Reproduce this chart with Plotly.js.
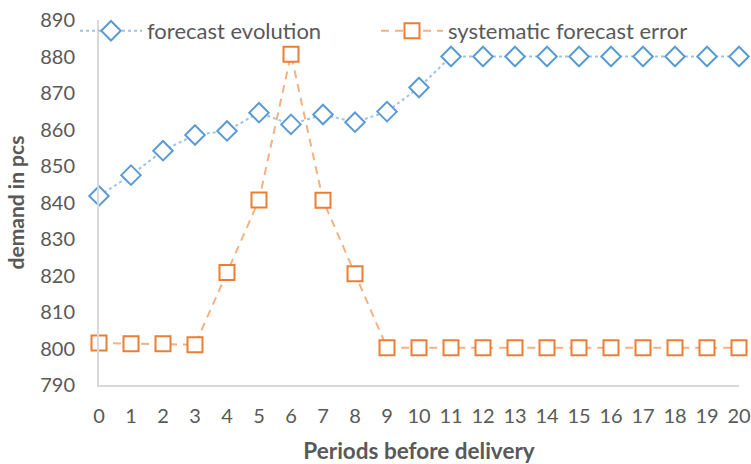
<!DOCTYPE html>
<html>
<head>
<meta charset="utf-8">
<script src="https://cdn.plot.ly/plotly-3.0.1.min.js"></script>
<style>html,body{margin:0;padding:0;background:#fff;}#chart{width:751px;height:464px;}</style>
</head>
<body>
<div id="chart"></div>
<script>
const periods = [0,1,2,3,4,5,6,7,8,9,10,11,12,13,14,15,16,17,18,19,20];
const forecastEvolution = [841.8,847.5,854.2,858.5,859.6,864.6,861.4,864.1,862.0,864.9,871.5,880,880,880,880,880,880,880,880,880,880];
const systematicError = [801.5,801.3,801.3,801.0,820.8,840.7,880.6,840.6,820.5,800.2,800.2,800.2,800.2,800.2,800.2,800.2,800.2,800.2,800.2,800.2,800.2];
const seriesNames = ['forecast evolution','systematic forecast error'];
const yTicks = [790,800,810,820,830,840,850,860,870,880,890];

const textColor = '#595959';
const traces = [
  {
    x: periods, y: forecastEvolution, name: seriesNames[0], type: 'scatter', mode: 'lines+markers',
    cliponaxis: false, legend: 'legend',
    line: {color: '#9dc3e6', width: 2, dash: 'dot'},
    marker: {symbol: 'diamond', size: 15, color: '#ffffff', line: {color: '#5b9bd5', width: 2}}
  },
  {
    x: periods, y: systematicError, name: seriesNames[1], type: 'scatter', mode: 'lines+markers',
    cliponaxis: false, legend: 'legend2',
    line: {color: '#f4b183', width: 2, dash: '8px,6px'},
    marker: {symbol: 'square', size: 15, color: '#ffffff', line: {color: '#ed7d31', width: 2}}
  }
];
const legendBase = {
  orientation: 'h', xanchor: 'left', y: 0.97, yanchor: 'middle',
  xref: 'paper', yref: 'paper',
  font: {size: 22, color: textColor},
  bgcolor: 'rgba(0,0,0,0)', itemwidth: 62
};
const layout = {
  width: 751, height: 464,
  margin: {l: 99, r: 12, t: 20, b: 79, pad: 0, autoexpand: false},
  paper_bgcolor: '#ffffff', plot_bgcolor: '#ffffff',
  font: {family: 'Lato, "Open Sans", sans-serif', color: textColor, size: 20},
  showlegend: true,
  legend: Object.assign({}, legendBase, {x: -0.0375}),
  legend2: Object.assign({}, legendBase, {x: 0.4328}),
  xaxis: {
    range: [0, 20], tickvals: periods, ticktext: periods.map(String),
    showgrid: false, zeroline: false, showline: true, linecolor: '#d9d9d9', linewidth: 2,
    ticks: '', ticklabelstandoff: 12, tickangle: 0, automargin: false,
    tickfont: {size: 20, color: textColor},
    title: {text: 'Periods before delivery', font: {size: 22.5, color: textColor, weight: 'bold'}, standoff: 19}
  },
  yaxis: {
    range: [790, 890], tickvals: yTicks, automargin: false,
    showgrid: false, zeroline: false, showline: true, linecolor: '#d9d9d9', linewidth: 2,
    ticks: '', ticklabelstandoff: 18,
    tickfont: {size: 20, color: textColor},
    title: {text: 'demand in pcs', font: {size: 21, color: textColor, weight: 'bold'}, standoff: 10}
  }
};
Plotly.newPlot('chart', traces, layout, {displayModeBar: false, staticPlot: true});
</script>
</body>
</html>
